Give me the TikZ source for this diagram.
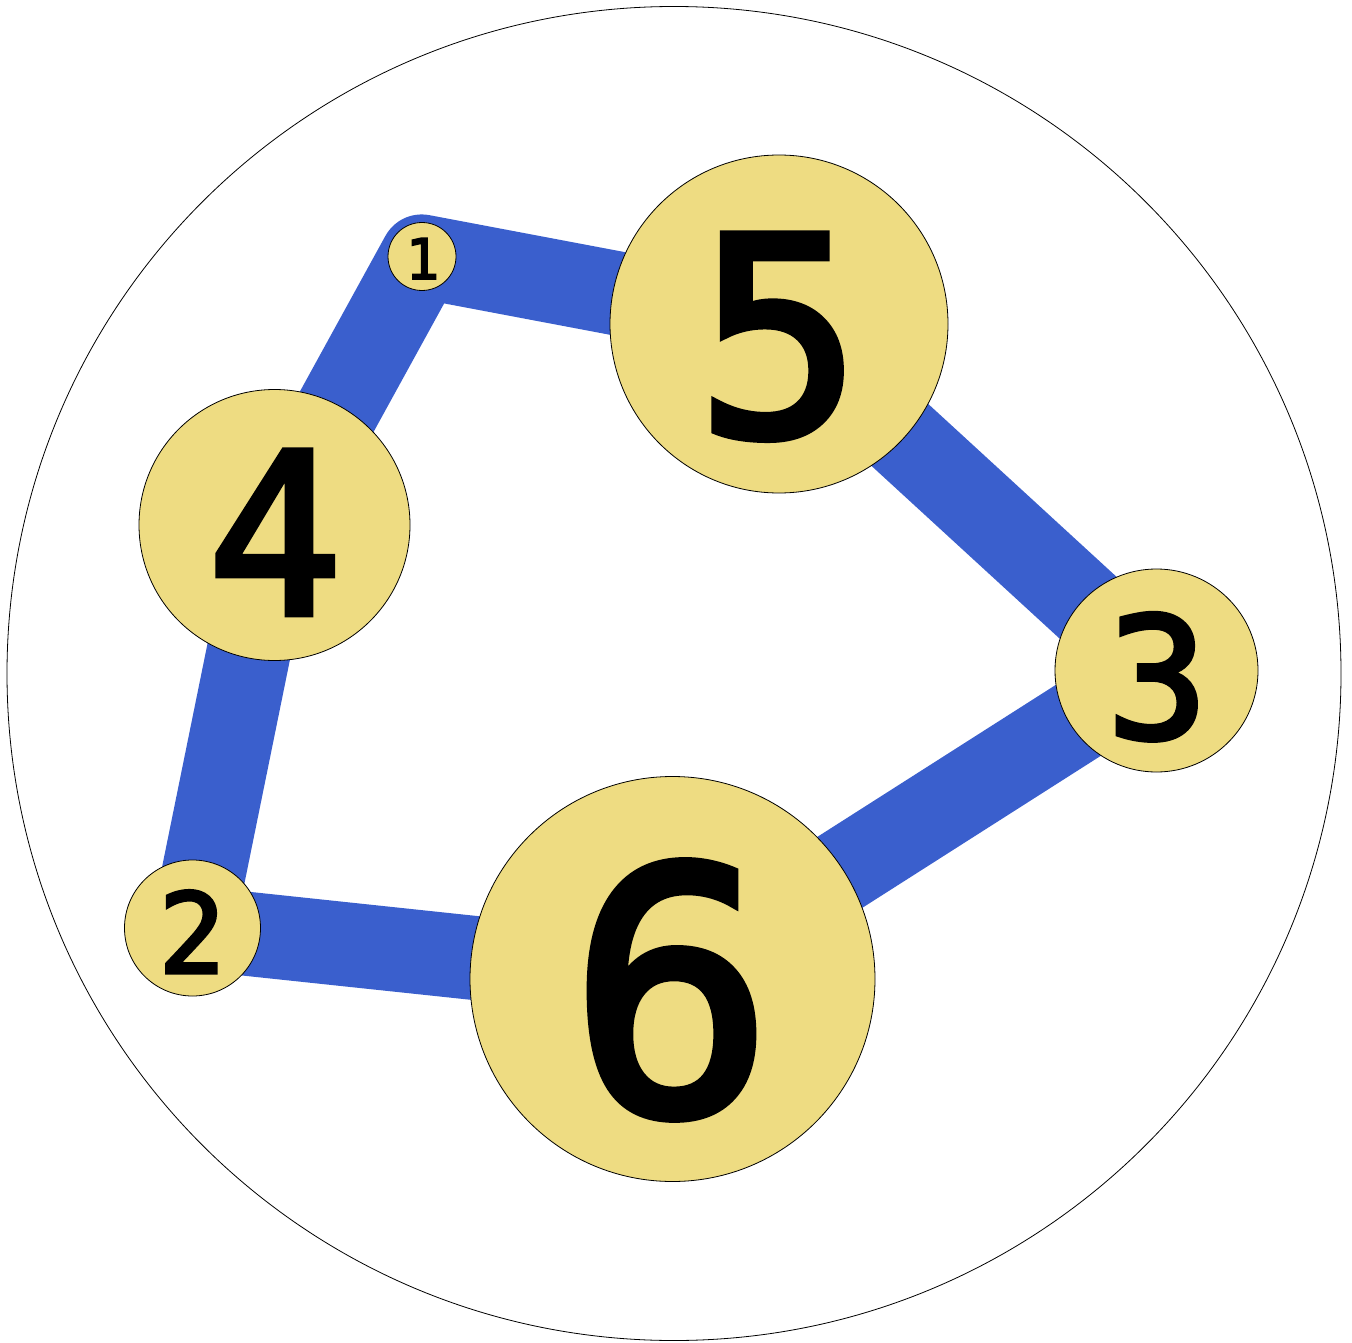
\documentclass[tikz,border=0pt]{standalone}
\usepackage{fontspec}
\newfontfamily\dmono[FakeBold=3]{DejaVu Sans Mono}
\definecolor{edgeblue}{RGB}{58,95,205}
\definecolor{nodefill}{RGB}{238,220,130}
\begin{document}
\begin{tikzpicture}[x=1pt,y=-1pt,
  ball/.style={circle,draw=black,line width=0.8pt,fill=nodefill,inner sep=0pt,outer sep=0pt},
  digit/.style={anchor=base,inner sep=0pt,outer sep=0pt,text=black,font=\fontsize{#1}{#1}\selectfont\dmono},
  ring/.style={edgeblue,line width=84pt,line join=round}]
\useasboundingbox (0,0) rectangle (1352,1343);
\draw[line width=0.8pt] (674,673.5) circle[radius=667];
\coordinate (c1) at (422,256.5);
\coordinate (c5) at (779,324);
\coordinate (c3) at (1156.5,670.5);
\coordinate (c6) at (672.5,979);
\coordinate (c2) at (192.5,928);
\coordinate (c4) at (274.5,525);
\draw[ring] (c1) -- (c5) -- (c3) -- (c6) -- (c2) -- (c4) -- cycle;
\node[ball,minimum size=68pt] (n1) at (c1) {};
\node[ball,minimum size=338pt] (n5) at (c5) {};
\node[ball,minimum size=203pt] (n3) at (c3) {};
\node[ball,minimum size=405pt] (n6) at (c6) {};
\node[ball,minimum size=136pt] (n2) at (c2) {};
\node[ball,minimum size=271pt] (n4) at (c4) {};
\node[digit=56] (t1) at (422.5,279) {1};
\node[digit=275] (t5) at (779,435) {5};
\node[digit=168] (t3) at (1157.5,738) {3};
\node[digit=338] (t6) at (671.5,1113) {6};
\node[digit=111] (t2) at (192,973) {2};
\node[digit=224] (t4) at (275,614) {4};
\end{tikzpicture}
\end{document}
